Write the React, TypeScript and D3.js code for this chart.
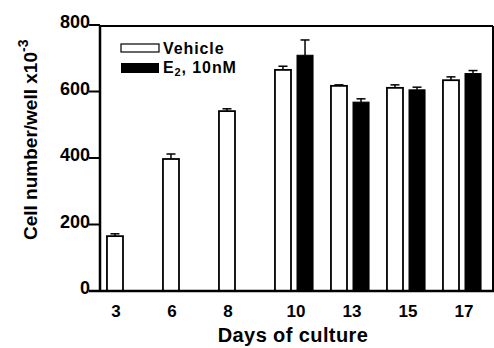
import * as d3 from "d3";

const days = ["3", "6", "8", "10", "13", "15", "17"];
const vehicle = [165, 397, 541, 665, 617, 611, 634];
const vehicleErr = [7, 15, 7, 11, 3, 9, 10];
const e2 = [null, null, null, 709, 568, 605, 654];
const e2Err = [null, null, null, 46, 10, 8, 9];
const yTicks = [0, 200, 400, 600, 800];

const W = 494;
const H = 348;
const FONT = "'Liberation Sans', Arial, Helvetica, sans-serif";

export default function App() {
  const left = 100;
  const right = 493;
  const top = 25;
  const bottom = 291;

  const x = d3
    .scaleBand()
    .domain(days)
    .range([98, 490])
    .paddingInner(0.32)
    .paddingOuter(0.16);
  const xi = d3
    .scaleBand()
    .domain(["vehicle", "e2"])
    .range([0, x.bandwidth()])
    .paddingInner(0.273);
  const y = d3.scaleLinear().domain([0, 800]).range([bottom, top]);
  const bw = xi.bandwidth();

  const errBar = (cx, v, e, key) => (
    <g key={key} stroke="#000" strokeWidth={1.5}>
      <line x1={cx} x2={cx} y1={y(v)} y2={y(v + e)} />
      <line x1={cx - 4.5} x2={cx + 4.5} y1={y(v + e)} y2={y(v + e)} />
    </g>
  );

  return (
    <svg
      width={W}
      height={H}
      style={{ position: "absolute", left: 0, top: 0, background: "#fff" }}
      fontFamily={FONT}
      fontWeight="bold"
    >
      {/* bars */}
      {days.map((d, i) => {
        const vx = x(d) + xi("vehicle");
        const ex = x(d) + xi("e2");
        return (
          <g key={d}>
            {errBar(vx + bw / 2, vehicle[i], vehicleErr[i], "ve")}
            <rect
              x={vx}
              y={y(vehicle[i])}
              width={bw}
              height={bottom - y(vehicle[i])}
              fill="#fff"
              stroke="#000"
              strokeWidth={1.8}
            />
            {e2[i] != null && (
              <>
                {errBar(ex + bw / 2, e2[i], e2Err[i], "ee")}
                <rect
                  x={ex}
                  y={y(e2[i])}
                  width={bw}
                  height={bottom - y(e2[i])}
                  fill="#000"
                  stroke="#000"
                  strokeWidth={1}
                />
              </>
            )}
          </g>
        );
      })}

      {/* frame */}
      <line x1={left} x2={right} y1={top + 1} y2={top + 1} stroke="#000" strokeWidth={2} />
      <line x1={right} x2={right} y1={top + 1} y2={bottom} stroke="#000" strokeWidth={2} />
      <line x1={left - 11} x2={W} y1={bottom} y2={bottom} stroke="#000" strokeWidth={2.5} />
      <line x1={left} x2={left} y1={top} y2={bottom} stroke="#000" strokeWidth={2.5} />

      {/* y axis */}
      {yTicks.map((t) => (
        <g key={t}>
          <line x1={left - 11} x2={left} y1={y(t)} y2={y(t)} stroke="#000" strokeWidth={2} />
          <text
            x={left - 10}
            y={y(t) - 3}
            textAnchor="end"
            dominantBaseline="central"
            fontSize={18}
          >
            {t}
          </text>
        </g>
      ))}

      {/* x tick labels */}
      {days.map((d, i) => {
        const cx =
          e2[i] != null
            ? x(d) + x.bandwidth() / 2 + 2
            : x(d) + xi("vehicle") + bw / 2 + 1;
        return (
          <text key={d} x={cx} y={317} textAnchor="middle" fontSize={17}>
            {d}
          </text>
        );
      })}

      {/* axis titles */}
      <text x={293} y={342} textAnchor="middle" fontSize={20} letterSpacing={0.4}>
        Days of culture
      </text>
      <text
        transform="translate(37,240) rotate(-90)"
        fontSize={19}
      >
        Cell number/well x10
        <tspan dy={-9} fontSize={14}>-3</tspan>
      </text>

      {/* legend */}
      <rect x={121} y={44} width={38} height={8} fill="#fff" stroke="#000" strokeWidth={1.2} />
      <text x={163} y={54} fontSize={16} letterSpacing={0.9}>
        Vehicle
      </text>
      <rect x={121} y={63} width={38} height={10} fill="#000" />
      <text x={163} y={73} fontSize={16} letterSpacing={0.9}>
        E
        <tspan fontSize={11} dy={3}>2</tspan>
        <tspan dy={-3}>, 10nM</tspan>
      </text>
    </svg>
  );
}
